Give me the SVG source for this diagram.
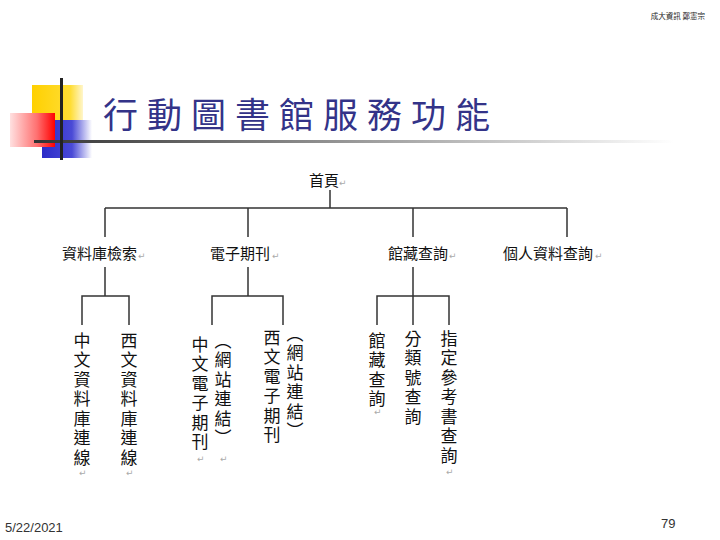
<svg xmlns="http://www.w3.org/2000/svg" width="720" height="540" viewBox="0 0 720 540">
<defs>
<linearGradient id="gY" x1="0" y1="0" x2="1" y2="0"><stop offset="0" stop-color="#FFD000"/><stop offset="0.75" stop-color="#FFDD33"/><stop offset="1" stop-color="#FFF6CC"/></linearGradient>
<linearGradient id="gR" x1="0" y1="0" x2="1" y2="0"><stop offset="0" stop-color="#FFE0E0"/><stop offset="0.6" stop-color="#FF7070"/><stop offset="1" stop-color="#FF0000"/></linearGradient>
<linearGradient id="gB" x1="0" y1="0" x2="1" y2="0"><stop offset="0" stop-color="#2B2BC8"/><stop offset="0.6" stop-color="#4A4AD6"/><stop offset="1" stop-color="#FFFFFF"/></linearGradient>
<linearGradient id="gL" x1="0" y1="0" x2="1" y2="0"><stop offset="0" stop-color="#333333"/><stop offset="0.5" stop-color="#999999"/><stop offset="1" stop-color="#FFFFFF"/></linearGradient>
<style>
.ln{stroke:#333;stroke-width:1.5;fill:none}
.t{font-family:"Noto Sans CJK TC","Noto Sans CJK SC",sans-serif;font-size:15px;fill:#111}
.v{font-family:"Noto Sans CJK TC","Noto Sans CJK SC",sans-serif;font-size:17px;fill:#111;writing-mode:vertical-rl;letter-spacing:2.5px}
.pm{font-family:"DejaVu Sans",sans-serif;font-size:9px;fill:#aaa}
</style>
</defs>
<rect width="720" height="540" fill="#fff"/>
<g id="header"><text x="705" y="19" text-anchor="end" style="font-family:'Noto Sans CJK TC',sans-serif;font-size:7.5px;fill:#222">成大資訊 鄭憲宗</text></g>
<g id="decoration">
<rect x="32" y="85" width="51" height="35" fill="url(#gY)"/>
<rect x="42" y="120" width="50" height="38" fill="url(#gB)"/>
<rect x="10" y="113" width="45" height="34" fill="url(#gR)"/>
<rect x="34" y="140" width="640" height="3" fill="url(#gL)"/>
<rect x="60" y="78" width="3" height="82" fill="#222"/>
</g>
<g id="title"><text x="103" y="128" style="font-family:'Noto Sans CJK TC',sans-serif;font-size:35px;fill:#333388;letter-spacing:9px">行動圖書館服務功能</text></g>
<g id="connectors">
<path class="ln" d="M330 190V208M105 208H567M105 208V237M248 208V237M413 208V237M567 208V237"/>
<path class="ln" d="M105 267V296M82 325V296H129V325"/>
<path class="ln" d="M248 267V296M212 325V296H283V325"/>
<path class="ln" d="M413 267V296M377 325V296H449V325M413 296V325"/>
</g>
<g id="n-home"><text class="t" x="309" y="186">首頁</text><text class="pm" x="339" y="186">↵</text></g>
<g id="n-db"><text class="t" x="62" y="259">資料庫檢索</text><text class="pm" x="138" y="259">↵</text></g>
<g id="n-ej"><text class="t" x="210" y="259">電子期刊</text><text class="pm" x="272" y="259">↵</text></g>
<g id="n-coll"><text class="t" x="388" y="259">館藏查詢</text><text class="pm" x="449" y="259">↵</text></g>
<g id="n-personal"><text class="t" x="503" y="259">個人資料查詢</text><text class="pm" x="595" y="259">↵</text></g>
<g id="n-cdb"><text class="v" x="82" y="332">中文資料庫連線</text><text class="pm" x="79" y="476">↵</text></g>
<g id="n-wdb"><text class="v" x="129" y="332">西文資料庫連線</text><text class="pm" x="126" y="476">↵</text></g>
<g id="n-cej"><text class="v" x="200" y="336">中文電子期刊</text><text class="v" x="223" y="332">（網站連結）</text><text class="pm" x="197" y="462">↵</text><text class="pm" x="220" y="462">↵</text></g>
<g id="n-wej"><text class="v" x="272" y="329">西文電子期刊</text><text class="v" x="295" y="325">（網站連結）</text></g>
<g id="n-cc"><text class="v" x="377" y="332">館藏查詢</text><text class="pm" x="374" y="415">↵</text></g>
<g id="n-cls"><text class="v" x="413" y="330">分類號查詢</text></g>
<g id="n-res"><text class="v" x="449" y="330">指定參考書查詢</text><text class="pm" x="446" y="475">↵</text></g>
<g id="footer">
<text x="5" y="532" style="font-family:'Liberation Sans',sans-serif;font-size:13px;fill:#333">5/22/2021</text>
<text x="661" y="528" style="font-family:'Liberation Sans',sans-serif;font-size:13px;fill:#333">79</text>
</g>
</svg>
